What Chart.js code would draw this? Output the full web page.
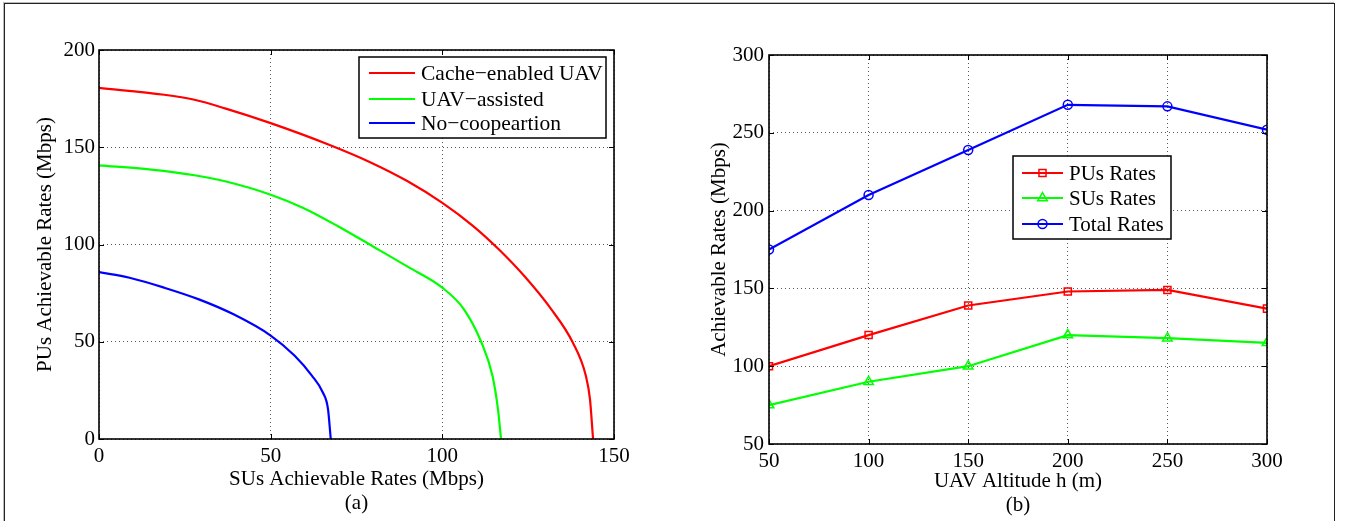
<!DOCTYPE html>
<html lang="en">
<head>
    <meta charset="UTF-8">
    <title>Rates vs UAV altitude</title>
    <script src="https://cdn.jsdelivr.net/npm/chart.js"></script>
    <style>
        body { margin: 0; background: #fff; }
        .wrap { position: relative; width: 1347px; height: 521px; overflow: hidden; }
        .frame {
            position: absolute; left: 4px; top: 3px; width: 1329px; height: 540px;
            border: 1.5px solid #222; box-shadow: -1px -1px 0 #bbb;
        }
        #chartA { position: absolute; left: 0; top: 0; }
        #chartB { position: absolute; left: 673px; top: 0; }
    </style>
</head>
<body>
<div class="wrap">
    <div class="frame"></div>
    <canvas id="chartA" width="673" height="521"></canvas>
    <canvas id="chartB" width="674" height="521"></canvas>
</div>

<script>
    // (a) rate regions: SU rate (x) vs PU rate (y)
    const cacheSU = [0, 19, 27.8, 36.7, 50, 67, 78.5, 89.9, 100, 108.9, 116.5, 124, 131.6, 138, 141.8, 143, 143.9];
    const cachePU = [180.5, 177, 174.4, 170, 162.4, 151.3, 142.7, 132.5, 121.4, 109.6, 97.4, 83.5, 67, 49.6, 32.5, 20.5, 0];
    const assistSU = [0, 15.2, 27.8, 36.7, 50, 59.5, 69.6, 79.7, 89.9, 100, 106.3, 111.4, 114.6, 116.2, 117.1];
    const assistPU = [140.7, 138.5, 135.6, 132.5, 125.6, 118.8, 109.4, 99.1, 88.6, 77.8, 66.7, 49.6, 32.5, 15.4, 0];
    const noCoopSU = [0, 8.9, 19, 29.1, 39.2, 50, 57, 62, 65.2, 66.7, 67.5];
    const noCoopPU = [85.8, 82.9, 77.8, 71.8, 64.1, 53.2, 42.8, 32.6, 23.9, 15.4, 0];

    // (b) rates vs altitude
    const altitude = [50, 100, 150, 200, 250, 300];
    const puRates = [100, 120, 139, 148, 149, 137];
    const suRates = [75, 90, 100, 120, 118, 115];
    const totalRates = [175, 210, 239, 268, 267, 252];

    const ticksA_x = [0, 50, 100, 150];
    const ticksA_y = [0, 50, 100, 150, 200];
    const ticksB = [50, 100, 150, 200, 250, 300];

    const FONT = "'Liberation Serif', 'DejaVu Serif', serif";

    function pts(xs, ys) {
        return xs.map((x, i) => ({ x: x, y: ys[i] }));
    }

    // matlab style box + inward tick marks
    const boxPlugin = {
        id: 'box',
        afterDraw(chart) {
            const ctx = chart.ctx;
            const a = chart.chartArea;
            const xs = chart.scales.x, ys = chart.scales.y;
            ctx.save();
            ctx.strokeStyle = '#000';
            ctx.lineWidth = 1;
            xs.ticks.forEach(t => {
                const px = Math.round(xs.getPixelForValue(t.value)) + 0.5;
                ctx.beginPath();
                ctx.moveTo(px, a.bottom); ctx.lineTo(px, a.bottom - 5);
                ctx.moveTo(px, a.top); ctx.lineTo(px, a.top + 5);
                ctx.stroke();
            });
            ys.ticks.forEach(t => {
                const py = Math.round(ys.getPixelForValue(t.value)) + 0.5;
                ctx.beginPath();
                ctx.moveTo(a.left, py); ctx.lineTo(a.left + 5, py);
                ctx.moveTo(a.right, py); ctx.lineTo(a.right - 5, py);
                ctx.stroke();
            });
            ctx.lineWidth = 1.6;
            ctx.strokeRect(a.left, a.top, a.right - a.left, a.bottom - a.top);
            ctx.restore();
        }
    };

    // boxed legend drawn at a fixed spot, like the matlab figure
    function legendPlugin(box, rows, lineX0, lineX1, textX, fontSize) {
        return {
            id: 'boxLegend',
            afterDraw(chart) {
                const ctx = chart.ctx;
                ctx.save();
                ctx.fillStyle = '#fff';
                ctx.fillRect(box.x, box.y, box.w, box.h);
                ctx.strokeStyle = '#000';
                ctx.lineWidth = 1.5;
                ctx.strokeRect(box.x, box.y, box.w, box.h);
                chart.data.datasets.forEach((ds, i) => {
                    const y = rows[i];
                    ctx.strokeStyle = ds.borderColor;
                    ctx.lineWidth = 2.2;
                    ctx.beginPath();
                    ctx.moveTo(lineX0, y); ctx.lineTo(lineX1, y);
                    ctx.stroke();
                    if (ds.pointStyle && ds.pointRadius > 0) {
                        ctx.fillStyle = 'rgba(0,0,0,0)';
                        ctx.lineWidth = 1.5;
                        Chart.helpers.drawPoint(ctx, {
                            pointStyle: ds.pointStyle, radius: ds.pointRadius,
                            borderWidth: 1.5, rotation: 0
                        }, (lineX0 + lineX1) / 2, y);
                    }
                    ctx.fillStyle = '#000';
                    ctx.font = fontSize + 'px ' + FONT;
                    ctx.textBaseline = 'middle';
                    ctx.textAlign = 'left';
                    ctx.fillText(ds.label, textX, y + 1);
                });
                ctx.restore();
            }
        };
    }

    function axis(min, max, tickVals, title, fitSize, isX, titlePad, tickPad) {
        return {
            type: 'linear',
            min: min, max: max,
            afterBuildTicks: s => { s.ticks = tickVals.map(v => ({ value: v })); },
            afterFit: s => { if (isX) s.height = fitSize; else s.width = fitSize; },
            ticks: {
                color: '#000', padding: tickPad,
                font: { family: FONT, size: 21 }, maxRotation: 0
            },
            grid: { color: 'rgba(0,0,0,0.65)', lineWidth: 1, drawTicks: false },
            border: { display: false, dash: [1, 3] },
            title: {
                display: true, text: title, color: '#000',
                font: { family: FONT, size: 21, lineHeight: '24px' },
                padding: titlePad
            }
        };
    }

    new Chart(document.getElementById('chartA'), {
        type: 'scatter',
        data: {
            datasets: [
                { label: 'Cache\u2212enabled UAV', data: pts(cacheSU, cachePU), borderColor: '#ff0000' },
                { label: 'UAV\u2212assisted', data: pts(assistSU, assistPU), borderColor: '#00ff00' },
                { label: 'No\u2212coopeartion', data: pts(noCoopSU, noCoopPU), borderColor: '#0000ff' }
            ].map(d => Object.assign(d, {
                showLine: true, pointRadius: 0, borderWidth: 2.2,
                cubicInterpolationMode: 'monotone', fill: false
            }))
        },
        options: {
            responsive: false, animation: false,
            layout: { padding: { top: 50, right: 59, bottom: 0, left: 0 }, autoPadding: false },
            plugins: { legend: { display: false }, tooltip: { enabled: false } },
            scales: {
                x: axis(0, 150, ticksA_x, ['SUs Achievable Rates (Mbps)', '(a)'], 82, true, { top: 0, bottom: 6 }, 5),
                y: axis(0, 200, ticksA_y, 'PUs Achievable Rates (Mbps)', 99, false, { top: 33, bottom: 0 }, 4)
            }
        },
        plugins: [boxPlugin, legendPlugin({ x: 359, y: 57, w: 247, h: 81 }, [73, 99, 123], 369, 415, 421, 21.5)]
    });

    new Chart(document.getElementById('chartB'), {
        type: 'line',
        data: {
            datasets: [
                { label: 'PUs Rates', data: pts(altitude, puRates), borderColor: '#ff0000', pointStyle: 'rect', pointRadius: 5 },
                { label: 'SUs Rates', data: pts(altitude, suRates), borderColor: '#00ff00', pointStyle: 'triangle', pointRadius: 5.5 },
                { label: 'Total Rates', data: pts(altitude, totalRates), borderColor: '#0000ff', pointStyle: 'circle', pointRadius: 4.5 }
            ].map(d => Object.assign(d, {
                borderWidth: 2.2, pointBorderWidth: 1.5, pointBackgroundColor: 'rgba(0,0,0,0)',
                pointBorderColor: d.borderColor, tension: 0, fill: false
            }))
        },
        options: {
            responsive: false, animation: false,
            layout: { padding: { top: 55, right: 80, bottom: 0, left: 0 }, autoPadding: false },
            plugins: { legend: { display: false }, tooltip: { enabled: false } },
            scales: {
                x: axis(50, 300, ticksB, ['UAV Altitude h (m)', '(b)'], 77, true, { top: 0, bottom: 4 }, 5),
                y: axis(50, 300, ticksB, 'Achievable Rates (Mbps)', 96, false, { top: 34, bottom: 0 }, 5)
            }
        },
        plugins: [boxPlugin, legendPlugin({ x: 340, y: 156, w: 158, h: 83 }, [173, 198, 224], 349, 390, 396, 21)]
    });
</script>
</body>
</html>
